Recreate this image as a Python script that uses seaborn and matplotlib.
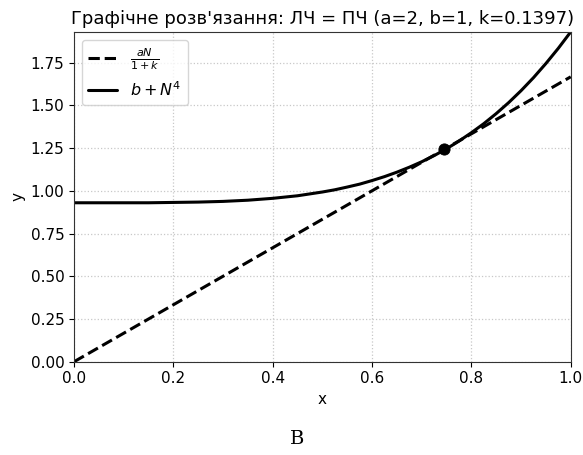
import matplotlib
matplotlib.use('Agg')
import matplotlib.pyplot as plt
import seaborn as sns
import pandas as pd

# values
x_lhs = [0.0, 1.0]
y_lhs = [0.0, 1.667]

x_rhs = [0.0, 0.05, 0.1, 0.15, 0.2, 0.25, 0.3, 0.35, 0.4, 0.45, 0.5, 0.525,
         0.55, 0.575, 0.6, 0.625, 0.65, 0.675, 0.7, 0.725, 0.75, 0.775, 0.8,
         0.825, 0.85, 0.875, 0.9, 0.925, 0.95, 0.975, 1.0]
y_rhs = [0.93, 0.93, 0.93, 0.93, 0.932, 0.934, 0.938, 0.945, 0.956, 0.971, 0.993, 1.006,
         1.022, 1.039, 1.06, 1.083, 1.109, 1.138, 1.17, 1.206, 1.246, 1.291, 1.34,
         1.393, 1.452, 1.516, 1.586, 1.662, 1.745, 1.834, 1.93]

x_cross = [0.745]
y_cross = [1.245]

title = "Графічне розв'язання: ЛЧ = ПЧ (a=2, b=1, k=0.1397)"
caption = "В"

sns.set_style('ticks')
plt.rcParams['font.family'] = ['DejaVu Sans']
plt.rcParams['text.color'] = 'black'
plt.rcParams['axes.labelcolor'] = 'black'
plt.rcParams['xtick.color'] = 'black'
plt.rcParams['ytick.color'] = 'black'

fig, ax = plt.subplots(figsize=(5.83, 4.55), dpi=100)
fig.subplots_adjust(left=0.127, right=0.979, top=0.93, bottom=0.205)

lhs = pd.DataFrame({'x': x_lhs, 'y': y_lhs})
rhs = pd.DataFrame({'x': x_rhs, 'y': y_rhs})

sns.lineplot(data=lhs, x='x', y='y', ax=ax, color='black', lw=2.2,
             linestyle='--', label=r'$\frac{aN}{1+k}$')
sns.lineplot(data=rhs, x='x', y='y', ax=ax, color='black', lw=2.2,
             label=r'$b + N^4$')
sns.scatterplot(x=x_cross, y=y_cross, ax=ax, color='black', s=65,
                edgecolor='black', zorder=5)

ax.set_xlim(0, 1)
ax.set_ylim(0, max(y_rhs))
ax.set_yticks([0, 0.25, 0.5, 0.75, 1.0, 1.25, 1.5, 1.75])
ax.grid(True, linestyle=':', color='#c8c8c8', lw=0.9)
ax.set_title(title, fontsize=13)
ax.set_xlabel('x', fontsize=11)
ax.set_ylabel('y', fontsize=11)
ax.tick_params(labelsize=11)
for s in ax.spines.values():
    s.set_color('#333333')

leg = ax.legend(loc='upper left', fontsize=11.5, handlelength=1.8)

fig.text(0.51, 0.025, caption, fontsize=14, family='DejaVu Serif', ha='center')

fig.savefig('out.png', dpi=100)
